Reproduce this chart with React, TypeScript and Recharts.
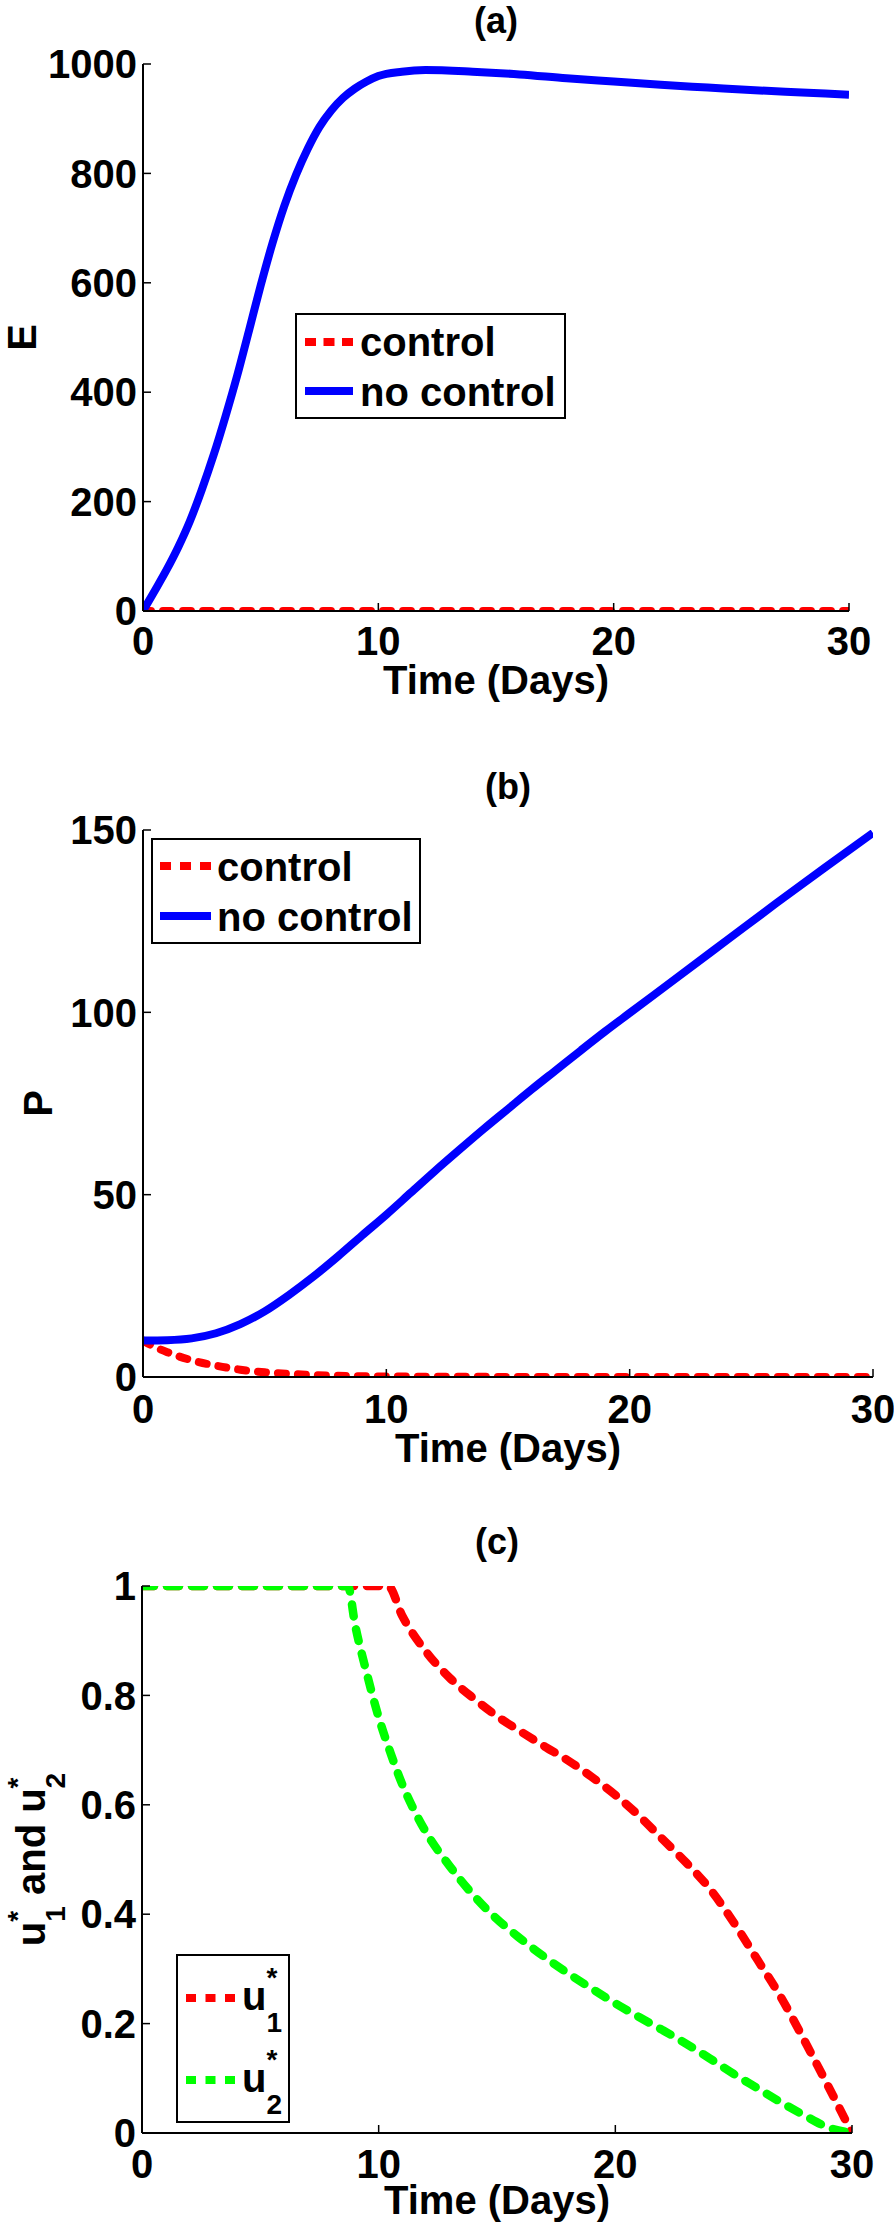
import React from 'react';
import { LineChart, Line, XAxis, YAxis, Legend } from 'recharts';

const FONT = '"Liberation Sans", Arial, Helvetica, sans-serif';
const RED = '#ff0000';
const BLUE = '#0000ff';
const GREEN = '#00ff00';
const CHART_W = 894;

// ---------- shared ----------
const timeTicks = [0, 10, 20, 30];
const xLabelText = 'Time (Days)';

// ---------- panel (a): E ----------
const eTicks = [0, 200, 400, 600, 800, 1000];
const eTime = [0, 0.5, 1, 1.5, 2, 2.5, 3, 3.5, 4, 4.5, 5, 5.5, 6, 6.5, 7, 7.5, 8, 8.5, 9, 9.5, 10, 11, 12, 14, 16, 18, 20, 22, 24, 26, 28, 30];
const eNoControl = [0, 37, 75, 117, 165, 222, 285, 355, 430, 512, 595, 672, 740, 797, 845, 885, 915, 938, 955, 968, 978, 986, 989, 986, 981, 974, 968, 962, 957, 952, 948, 944];
const eControlTime = [0, 5, 10, 15, 20, 25, 30];
const eControl = [0, 0, 0, 0, 0, 0, 0];

// ---------- panel (b): P ----------
const pTicks = [0, 50, 100, 150];
const pTime = [0, 1, 2, 3, 4, 5, 6, 7, 8, 9, 10, 11, 12, 13, 14, 15, 16, 17, 18, 19, 20, 22, 24, 26, 28, 30];
const pNoControl = [10, 10.1, 10.6, 12, 14.5, 18, 22.5, 27.5, 33, 38.8, 44.5, 50.5, 56.5, 62.3, 68, 73.5, 79, 84.3, 89.6, 94.8, 99.8, 109.8, 119.8, 129.8, 139.6, 149.2];
const pControlTime = [0, 0.5, 1, 1.5, 2, 3, 4, 5, 6, 7, 8, 10, 15, 20, 25, 30];
const pControl = [10, 8.2, 6.8, 5.6, 4.6, 3.1, 2.0, 1.3, 0.85, 0.55, 0.35, 0.15, 0.03, 0.01, 0, 0];

// ---------- panel (c): controls ----------
const uTicks = [0, 0.2, 0.4, 0.6, 0.8, 1];
const u1Time = [0, 10.4, 11, 12, 13, 14, 15, 16, 17, 18, 19, 20, 21, 22, 23, 24, 25, 26, 27, 28, 29, 30];
const u1 = [1, 1, 0.945, 0.88, 0.832, 0.795, 0.762, 0.734, 0.707, 0.681, 0.651, 0.618, 0.58, 0.537, 0.494, 0.446, 0.385, 0.317, 0.248, 0.168, 0.085, 0];
const u2Time = [0, 8.7, 9, 9.5, 10, 10.5, 11, 11.5, 12, 13, 14, 15, 16, 17, 18, 19, 20, 21, 22, 23, 24, 25, 26, 27, 28, 29, 30];
const u2 = [1, 1, 0.93, 0.84, 0.76, 0.695, 0.637, 0.59, 0.55, 0.488, 0.435, 0.391, 0.355, 0.322, 0.292, 0.264, 0.237, 0.212, 0.188, 0.163, 0.136, 0.108, 0.082, 0.056, 0.032, 0.01, 0];

const toPoints = (time: number[], values: number[]) => time.map((t, i) => ({ t, v: values[i] }));

type Series = { name: string; data: { t: number; v: number }[]; color: string; dash?: string; width: number };
type LegendRow = { main: string; sub?: string; color: string; dashed: boolean; lineY: number; textY: number };
type LegendSpec = { left: number; top: number; width: number; height: number; sampleX1: number; sampleX2: number; textX: number; dash: string; rows: LegendRow[] };

type PanelProps = {
  title: string;
  top: number;
  height: number;
  margin: { top: number; right: number; left: number; bottom: number };
  xAxisHeight: number;
  xTickMargin: number;
  xLabelOffset: number;
  titleOffset: number;
  yAxisWidth: number;
  yDomain: [number, number];
  yTicks: number[];
  yLabelX: number;
  yLabel: (cx: number, cy: number) => React.ReactNode;
  series: Series[];
  legend: LegendSpec;
};

const textStyle = { fill: '#000', fontSize: 40, fontWeight: 700, fontFamily: FONT };
const titleStyle = { ...textStyle, fontSize: 36 };

const legendContent = (spec: LegendSpec) => () => (
  <svg width={spec.width} height={spec.height} style={{ display: 'block', background: '#fff' }}>
    <rect x={1} y={1} width={spec.width - 2} height={spec.height - 2} fill="#fff" stroke="#000" strokeWidth={2} />
    {spec.rows.map((r, i) => (
      <g key={i}>
        <line
          x1={spec.sampleX1}
          x2={spec.sampleX2}
          y1={r.lineY}
          y2={r.lineY}
          stroke={r.color}
          strokeWidth={8}
          strokeDasharray={r.dashed ? spec.dash : undefined}
        />
        <text x={spec.textX} y={r.textY} {...textStyle}>
          {r.main}
          {r.sub ? (
            <>
              <tspan dy={22} fontSize={28}>{r.sub}</tspan>
              <tspan dx={-15.6} dy={-45} fontSize={28}>*</tspan>
            </>
          ) : null}
        </text>
      </g>
    ))}
  </svg>
);

function Panel(p: PanelProps) {
  const axisLine = { stroke: '#000', strokeWidth: 2 };
  const tickLine = { stroke: '#000', strokeWidth: 1.5 };
  const plotCenterX = (p.yAxisWidth + CHART_W - p.margin.right) / 2;
  const yLabelContent = (props: any) => {
    const vb = props && props.viewBox ? props.viewBox : { x: 0, y: p.margin.top, width: p.yAxisWidth, height: 0 };
    const cx = vb.x + p.yLabelX;
    const cy = vb.y + vb.height / 2;
    return (
      <g>
        {p.yLabel(cx, cy)}
        <text x={plotCenterX} y={vb.y - p.titleOffset} textAnchor="middle" {...titleStyle}>
          {p.title}
        </text>
      </g>
    );
  };
  return (
    <div style={{ position: 'absolute', left: 0, top: p.top }}>
      <LineChart width={CHART_W} height={p.height} margin={p.margin}>
        <XAxis
          xAxisId="bottom"
          type="number"
          dataKey="t"
          domain={[0, 30]}
          ticks={timeTicks}
          interval={0}
          allowDataOverflow
          height={p.xAxisHeight}
          axisLine={axisLine}
          tickLine={tickLine}
          tickSize={-8}
          tickMargin={p.xTickMargin}
          tick={textStyle}
          label={{ value: xLabelText, position: 'insideBottom', offset: p.xLabelOffset, ...textStyle }}
        />
        <XAxis
          xAxisId="top"
          orientation="top"
          type="number"
          dataKey="t"
          domain={[0, 30]}
          ticks={timeTicks}
          interval={0}
          allowDataOverflow
          height={0}
          axisLine={axisLine}
          tickLine={tickLine}
          tickSize={-8}
          tick={false}
        />
        <YAxis
          yAxisId="left"
          type="number"
          domain={p.yDomain}
          ticks={p.yTicks}
          interval={0}
          allowDataOverflow
          width={p.yAxisWidth}
          axisLine={axisLine}
          tickLine={tickLine}
          tickSize={-8}
          tickMargin={14}
          tick={textStyle}
          label={{ content: yLabelContent }}
        />
        <YAxis
          yAxisId="right"
          orientation="right"
          type="number"
          domain={p.yDomain}
          ticks={p.yTicks}
          interval={0}
          allowDataOverflow
          width={0}
          axisLine={axisLine}
          tickLine={tickLine}
          tickSize={-8}
          tick={false}
        />
        {p.series.map((s) => (
          <Line
            key={s.name}
            xAxisId="bottom"
            yAxisId="left"
            data={s.data}
            dataKey="v"
            name={s.name}
            type="monotone"
            stroke={s.color}
            strokeWidth={s.width}
            strokeDasharray={s.dash}
            strokeLinecap={s.dash ? 'round' : 'butt'}
            strokeLinejoin="round"
            dot={false}
            activeDot={false}
            isAnimationActive={false}
          />
        ))}
        <Legend
          layout="vertical"
          align="center"
          verticalAlign="middle"
          width={p.legend.width}
          height={p.legend.height}
          wrapperStyle={{ left: p.legend.left, top: p.legend.top, width: p.legend.width, height: p.legend.height }}
          content={legendContent(p.legend)}
        />
      </LineChart>
    </div>
  );
}

const simpleYLabel = (text: string) => (cx: number, cy: number) => (
  <text x={cx} y={cy} dy="0.36em" transform={`rotate(-90 ${cx} ${cy})`} textAnchor="middle" {...textStyle}>
    {text}
  </text>
);

const uYLabel = (cx: number, cy: number) => (
  <text x={cx} y={cy} transform={`rotate(-90 ${cx} ${cy})`} textAnchor="middle" {...textStyle}>
    u
    <tspan dy={20} fontSize={28}>1</tspan>
    <tspan dx={-15.6} dy={-38} fontSize={28}>*</tspan>
    <tspan dx={4.7} dy={18}>{' and u'}</tspan>
    <tspan dy={20} fontSize={28}>2</tspan>
    <tspan dx={-15.6} dy={-38} fontSize={28}>*</tspan>
  </text>
);

export default function App() {
  return (
    <div style={{ position: 'absolute', left: 0, top: 0, width: 894, height: 2224, background: '#fff', overflow: 'hidden' }}>
      <Panel
        title="(a)"
        top={0}
        height={740}
        margin={{ top: 64, right: 45, left: 0, bottom: 0 }}
        xAxisHeight={129}
        xTickMargin={24}
        xLabelOffset={46}
        titleOffset={31}
        yAxisWidth={143}
        yDomain={[0, 1000]}
        yTicks={eTicks}
        yLabelX={22}
        yLabel={simpleYLabel('E')}
        series={[
          { name: 'control', data: toPoints(eControlTime, eControl), color: RED, dash: '8 12', width: 8 },
          { name: 'no control', data: toPoints(eTime, eNoControl), color: BLUE, width: 8 },
        ]}
        legend={{
          left: 295, top: 313, width: 271, height: 106, sampleX1: 10, sampleX2: 58, textX: 65, dash: '11 7.5',
          rows: [
            { main: 'control', color: RED, dashed: true, lineY: 29, textY: 43 },
            { main: 'no control', color: BLUE, dashed: false, lineY: 78, textY: 93 },
          ],
        }}
      />
      <Panel
        title="(b)"
        top={740}
        height={760}
        margin={{ top: 90, right: 21, left: 0, bottom: 0 }}
        xAxisHeight={123}
        xTickMargin={26}
        xLabelOffset={38}
        titleOffset={31}
        yAxisWidth={143}
        yDomain={[0, 150]}
        yTicks={pTicks}
        yLabelX={38}
        yLabel={simpleYLabel('P')}
        series={[
          { name: 'control', data: toPoints(pControlTime, pControl), color: RED, dash: '8 12', width: 8 },
          { name: 'no control', data: toPoints(pTime, pNoControl), color: BLUE, width: 8 },
        ]}
        legend={{
          left: 151, top: 98, width: 270, height: 106, sampleX1: 9, sampleX2: 60, textX: 66, dash: '11 9',
          rows: [
            { main: 'control', color: RED, dashed: true, lineY: 28, textY: 43 },
            { main: 'no control', color: BLUE, dashed: false, lineY: 78, textY: 93 },
          ],
        }}
      />
      <Panel
        title="(c)"
        top={1500}
        height={724}
        margin={{ top: 86, right: 42, left: 0, bottom: 0 }}
        xAxisHeight={91}
        xTickMargin={25}
        xLabelOffset={10}
        titleOffset={32}
        yAxisWidth={142}
        yDomain={[0, 1]}
        yTicks={uTicks}
        yLabelX={45}
        yLabel={uYLabel}
        series={[
          { name: 'u1', data: toPoints(u1Time, u1), color: RED, dash: '12 13', width: 8.5 },
          { name: 'u2', data: toPoints(u2Time, u2), color: GREEN, dash: '12 13', width: 8.5 },
        ]}
        legend={{
          left: 176, top: 454, width: 114, height: 169, sampleX1: 10, sampleX2: 59, textX: 66, dash: '10 9.5',
          rows: [
            { main: 'u', sub: '1', color: RED, dashed: true, lineY: 44, textY: 56 },
            { main: 'u', sub: '2', color: GREEN, dashed: true, lineY: 126, textY: 138 },
          ],
        }}
      />
    </div>
  );
}
